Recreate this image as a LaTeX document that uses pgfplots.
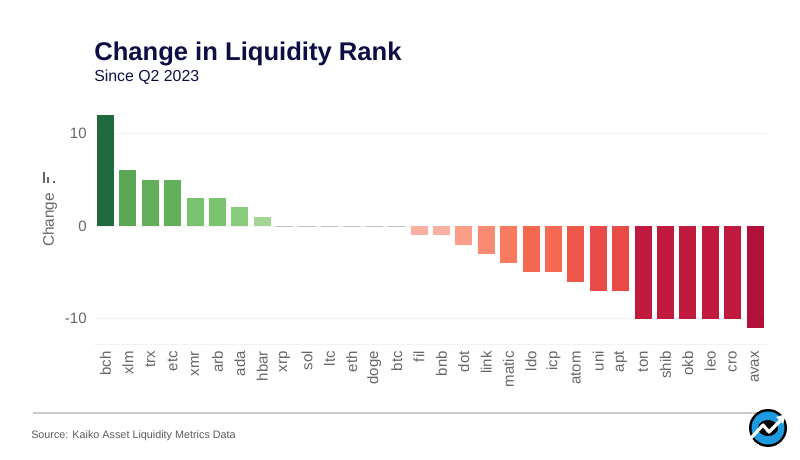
\documentclass[border=0pt]{standalone}
\usepackage{fontspec}
\setmainfont{Liberation Sans}
\usepackage{pgfplots}
\pgfplotsset{compat=1.18}

\definecolor{titlenavy}{HTML}{0E0E45}
\definecolor{lbl}{HTML}{666666}
\definecolor{faint}{HTML}{F2F2F2}
\definecolor{logoblue}{HTML}{1E9BE0}

\begin{document}
\begin{tikzpicture}
  \useasboundingbox (0,0) rectangle (600pt,345pt);
  \begin{axis}[
      at={(70.5pt,86.25pt)},
      anchor=south west,
      scale only axis,
      width=504.75pt,
      height=176.25pt,
      xmin=-0.513, xmax=29.536,
      ymin=-12.82, ymax=12.5,
      axis line style={draw=none},
      major tick length=0pt,
      xtick={0,...,29},
      xticklabels={bch,xlm,trx,etc,xmr,arb,ada,hbar,xrp,sol,ltc,eth,doge,btc,fil,bnb,dot,link,matic,ldo,icp,atom,uni,apt,ton,shib,okb,leo,cro,avax},
      xticklabel style={rotate=90,anchor=east,font=\fontsize{11.25}{12}\selectfont,text=lbl,inner sep=0pt,xshift=-4.5pt},
      ytick={-10,0,10},
      yticklabel style={font=\fontsize{11.25}{12}\selectfont,text=lbl,xshift=-2pt,/pgf/number format/assume math mode=true},
      ymajorgrids,
      grid style={faint,line width=0.75pt},
      ylabel={Change},
      every axis y label/.style={at={(axis description cs:-0.0654,0.532)},rotate=90,anchor=center,font=\fontsize{11.5}{12}\selectfont,text=lbl},
      b/.style={ybar,bar width=12.75pt,draw=none,fill={#1}},
    ]
    \addplot[b={rgb,255:red,31;green,107;blue,63}] coordinates {(0,12)};
    \addplot[b={rgb,255:red,90;green,168;blue,85}] coordinates {(1,6)};
    \addplot[b={rgb,255:red,99;green,174;blue,90}] coordinates {(2,5)};
    \addplot[b={rgb,255:red,99;green,176;blue,90}] coordinates {(3,5)};
    \addplot[b={rgb,255:red,120;green,194;blue,112}] coordinates {(4,3)};
    \addplot[b={rgb,255:red,122;green,196;blue,112}] coordinates {(5,3)};
    \addplot[b={rgb,255:red,136;green,204;blue,124}] coordinates {(6,2)};
    \addplot[b={rgb,255:red,163;green,213;blue,149}] coordinates {(7,1)};
    % zero bars show as a thin grey dash
    \addplot[ybar,bar width=12.75pt,draw=black!25,line width=0.5pt] coordinates {(8,0) (9,0) (10,0) (11,0) (12,0) (13,0)};
    \addplot[b={rgb,255:red,249;green,176;blue,160}] coordinates {(14,-1)};
    \addplot[b={rgb,255:red,249;green,176;blue,160}] coordinates {(15,-1)};
    \addplot[b={rgb,255:red,252;green,158;blue,136}] coordinates {(16,-2)};
    \addplot[b={rgb,255:red,251;green,138;blue,114}] coordinates {(17,-3)};
    \addplot[b={rgb,255:red,250;green,122;blue,96}] coordinates {(18,-4)};
    \addplot[b={rgb,255:red,245;green,103;blue,79}] coordinates {(19,-5)};
    \addplot[b={rgb,255:red,246;green,106;blue,83}] coordinates {(20,-5)};
    \addplot[b={rgb,255:red,240;green,88;blue,74}] coordinates {(21,-6)};
    \addplot[b={rgb,255:red,232;green,75;blue,72}] coordinates {(22,-7)};
    \addplot[b={rgb,255:red,232;green,75;blue,72}] coordinates {(23,-7)};
    \addplot[b={rgb,255:red,192;green,26;blue,62}] coordinates {(24,-10)};
    \addplot[b={rgb,255:red,192;green,26;blue,62}] coordinates {(25,-10)};
    \addplot[b={rgb,255:red,192;green,26;blue,62}] coordinates {(26,-10)};
    \addplot[b={rgb,255:red,192;green,26;blue,62}] coordinates {(27,-10)};
    \addplot[b={rgb,255:red,192;green,26;blue,62}] coordinates {(28,-10)};
    \addplot[b={rgb,255:red,176;green,16;blue,58}] coordinates {(29,-11)};
  \end{axis}

  % 1 unit = 1 px of the reference, y pointing down
  \begin{scope}[yshift=345pt,x=0.75pt,y=-0.75pt]
  % titles
  \node[anchor=base west,inner sep=0pt,text=titlenavy,font=\bfseries\fontsize{19.2}{20}\selectfont] at (94,60.5) {Change in Liquidity Rank};
  \node[anchor=base west,inner sep=0pt,text=titlenavy,font=\fontsize{11.9}{12}\selectfont] at (94,81.5) {Since Q2 2023};

  % small icon over the y label
  \fill[lbl] (42.5,172) rectangle (44.8,183.5);
  \fill[lbl] (46.7,177) rectangle (48.7,183.5);
  \fill[lbl] (52.5,181) rectangle (54.5,183.5);

  % plot bottom edge, rule and source
  \draw[faint,line width=0.75pt] (94,345) -- (767,345);
  \draw[black!20,line width=1.5pt] (33,412.7) -- (760,412.7);
  \node[anchor=base west,inner sep=0pt,text=lbl!90!black,font=\fontsize{8.1}{10}\selectfont] at (31,438.5) {Source: Kaiko Asset Liquidity Metrics Data};

  % logo
  \fill[black] (768,428) circle (19);
  \fill[logoblue] (768,428) circle (16.5);
  \fill[black] (768,428) ellipse (10 and 8);
  \draw[white,line width=2.4pt,line join=round] (751,438) -- (763,425) -- (769,432) -- (780,421);
  \fill[white] (776,417) -- (786,414) -- (783,424) -- cycle;
  \end{scope}
\end{tikzpicture}
\end{document}
